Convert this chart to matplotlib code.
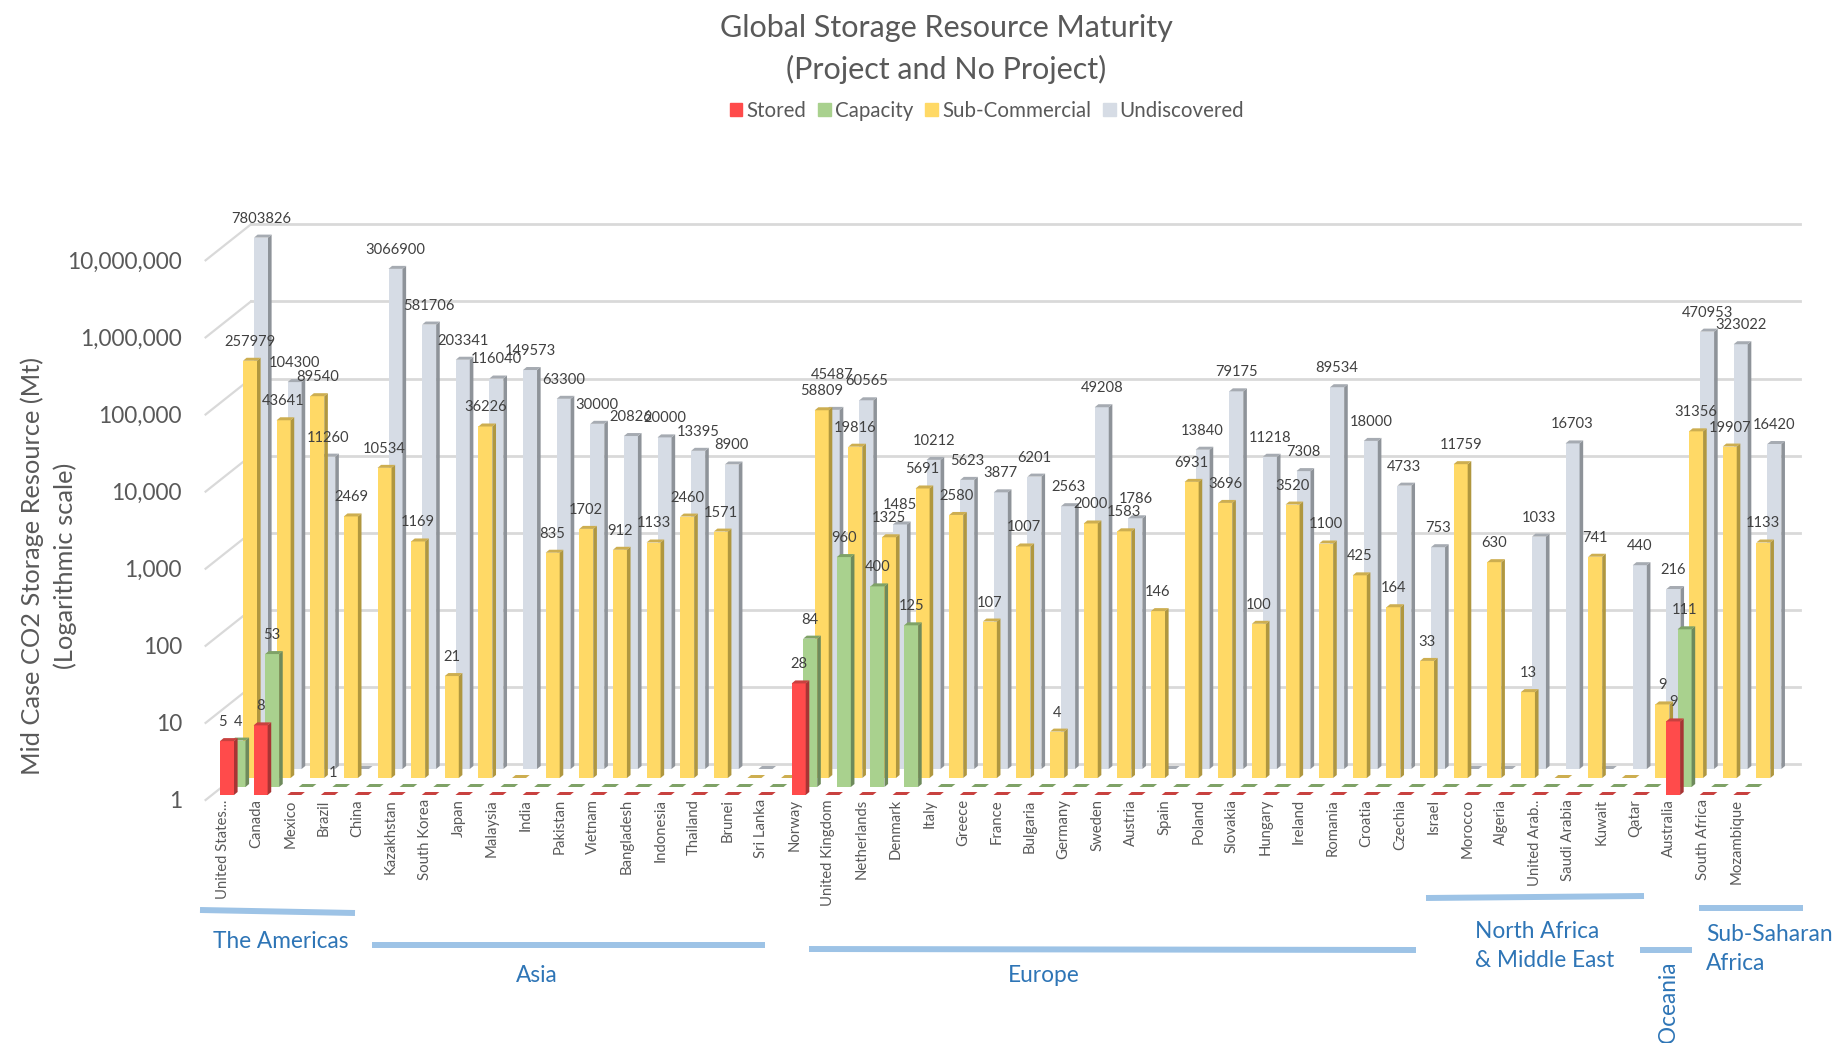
import numpy as np
from matplotlib import pyplot as plt
from matplotlib.patches import Patch
from matplotlib.ticker import FuncFormatter

countries = [
    "United States...", "Canada", "Mexico", "Brazil", "China", "Kazakhstan", "South Korea", "Japan",
    "Malaysia", "India", "Pakistan", "Vietnam", "Bangladesh", "Indonesia", "Thailand", "Brunei",
    "Sri Lanka", "Norway", "United Kingdom", "Netherlands", "Denmark", "Italy", "Greece", "France",
    "Bulgaria", "Germany", "Sweden", "Austria", "Spain", "Poland", "Slovakia", "Hungary", "Ireland",
    "Romania", "Croatia", "Czechia", "Israel", "Morocco", "Algeria", "United Arab..", "Saudi Arabia",
    "Kuwait", "Qatar", "Australia", "South Africa", "Mozambique",
]
# 0 = nothing there, only the flat dash on the floor
stored = [
    5, 8, 0, 0, 0, 0, 0, 0, 0, 0, 0, 0, 0, 0, 0, 0, 0, 28, 0, 0, 0, 0, 0, 0,
    0, 0, 0, 0, 0, 0, 0, 0, 0, 0, 0, 0, 0, 0, 0, 0, 0, 0, 0, 9, 0, 0,
]
capacity = [
    4, 53, 0, 0, 0, 0, 0, 0, 0, 0, 0, 0, 0, 0, 0, 0, 0, 84, 960, 400, 125, 0, 0, 0,
    0, 0, 0, 0, 0, 0, 0, 0, 0, 0, 0, 0, 0, 0, 0, 0, 0, 0, 0, 111, 0, 0,
]
sub_commercial = [
    257979, 43641, 89540, 2469, 10534, 1169, 21, 36226, 0, 835, 1702, 912, 1133, 2460, 1571, 0,
    0, 58809, 19816, 1325, 5691, 2580, 107, 1007, 4, 2000, 1583, 146, 6931, 3696, 100, 3520, 1100,
    425, 164, 33, 11759, 630, 13, 0, 741, 0, 9, 31356, 19907, 1133,
]
undiscovered = [
    7803826, 104300, 11260, 1, 3066900, 581706, 203341, 116040, 149573, 63300, 30000, 20826, 20000,
    13395, 8900, 0, 0, 45487, 60565, 1485, 10212, 5623, 3877, 6201, 2563, 49208, 1786, 0, 13840,
    79175, 11218, 7308, 89534, 18000, 4733, 753, 0, 0, 1033, 16703, 0, 440, 216, 470953, 323022,
    16420,
]

FIG_W, FIG_H = 1839, 1043
STEP = 33.63  # px per country
DECADE = 77.1  # px per power of ten
BAR_W = 14 / STEP
SIDE = 3.6 / STEP
TOP_F = 10 ** (3 / DECADE)
TEXT = "#595959"

plt.rcParams["font.family"] = ["Lato", "DejaVu Sans"]

fig = plt.figure(figsize=(FIG_W / 100, FIG_H / 100), dpi=100)


def depth_axes(x_first, y_floor, zorder):
    # one axes per depth row, all with the same scales, slid in pixels
    ax = fig.add_axes(
        [(x_first - STEP) / FIG_W, 1 - y_floor / FIG_H, 47 * STEP / FIG_W, 7 * DECADE / FIG_H],
        zorder=zorder,
    )
    ax.set_yscale("log")
    ax.set_xlim(-1, 46)
    ax.set_ylim(1, 1e7)
    ax.patch.set_alpha(0)
    for s in ax.spines.values():
        s.set_visible(False)
    ax.set_xticks([])
    ax.set_yticks([])
    ax.minorticks_off()
    return ax


def draw_row(ax, values, front, side, top):
    x = np.arange(len(values))
    heights = np.maximum(values, 1)
    ax.bar(x, heights - 1, BAR_W, bottom=1, color=front, linewidth=0)
    for i, h in zip(x, heights):
        left, right = i - BAR_W / 2, i + BAR_W / 2
        if h > 1:
            ax.fill(
                [right, right + SIDE, right + SIDE, right],
                [1, TOP_F, h * TOP_F, h],
                color=side, linewidth=0, clip_on=False,
            )
        ax.fill(
            [left, left + SIDE, right + SIDE, right],
            [h, h * TOP_F, h * TOP_F, h],
            color=top, linewidth=0, clip_on=False,
        )


# back wall with the gridlines and the slanted part on the left
wall = depth_axes(261, 764, 1)
wall.set_xlim(-0.3, 46)
wall.set_position([251 / FIG_W, 1 - 764 / FIG_H, 1549 / FIG_W, 7 * DECADE / FIG_H])
wall_x = 45.4 * 46.3 / 1549
for p in range(8):
    wall.axhline(10**p, color="#D9D9D9", lw=2, clip_on=False)
    wall.plot(
        [-0.3 - wall_x, -0.3], [10**p * 10 ** (-36 / DECADE), 10**p],
        color="#D9D9D9", lw=1.6, clip_on=False,
    )

grey_ax = depth_axes(261, 769, 2)
yellow_ax = depth_axes(250, 778, 3)
green_ax = depth_axes(238.5, 787, 4)
red_ax = depth_axes(227, 795, 5)

draw_row(grey_ax, undiscovered, "#D6DCE5", "#8E9399", "#A6ABB2")
draw_row(yellow_ax, sub_commercial, "#FFD966", "#B0973F", "#CDAE50")
draw_row(green_ax, capacity, "#A9D18E", "#6E8A5C", "#7FA267")
draw_row(red_ax, stored, "#FF4B4B", "#A83434", "#C8413F")

red_ax.set_xticks(np.arange(len(countries)) - 0.12)
red_ax.set_xticklabels(countries, rotation=90, fontsize=10.7, color=TEXT)
red_ax.tick_params(axis="x", length=0, pad=3)

# value axis sits on the front edge of the floor
front = depth_axes(205.6 + STEP, 800, 1)
front.set_yticks([10**p for p in range(8)])
front.yaxis.set_major_formatter(FuncFormatter(lambda v, _: f"{int(v):,}"))
front.tick_params(axis="y", length=0, pad=17, labelsize=16.3, labelcolor=TEXT)
front.yaxis.set_ticks_position("left")

# overlay in pixels for labels and region marks
over = fig.add_axes([0, 0, 1, 1], zorder=10)
over.set_xlim(0, FIG_W)
over.set_ylim(FIG_H, 0)
over.axis("off")

for ax, values in [
    (grey_ax, undiscovered),
    (yellow_ax, sub_commercial),
    (green_ax, capacity),
    (red_ax, stored),
]:
    for i, v in enumerate(values):
        if v < 1:
            continue
        offset = (0, 13.7)
        if v == 1:
            offset = (-21, -3)
        elif v == 45487:
            offset = (0, 25)  # pushed up in the original to clear its neighbour
        elif v == 5:
            offset = (-3, 13.7)
        over.annotate(
            str(v), (i, v), xycoords=ax.transData, xytext=offset, textcoords="offset points",
            ha="center", va="center", fontsize=10.6, color="#404040", annotation_clip=False,
        )

fig.suptitle(
    "Global Storage Resource Maturity\n(Project and No Project)",
    x=946 / FIG_W, y=1 - 49 / FIG_H, va="center", fontsize=22, color=TEXT, linespacing=1.5,
)
over.text(
    48.5, 566, "Mid Case CO2 Storage Resource (Mt)\n(Logarithmic scale)", rotation=90,
    ha="center", va="center", fontsize=18.3, color=TEXT, linespacing=1.45,
)

series_names = ["Stored", "Capacity", "Sub-Commercial", "Undiscovered"]
series_colors = ["#FF4B4B", "#A9D18E", "#FFD966", "#D6DCE5"]
handles = [Patch(color=c, label=n) for c, n in zip(series_colors, series_names)]
over.legend(
    handles=handles, ncol=4, loc="center", bbox_to_anchor=(987 / FIG_W, 1 - 111 / FIG_H),
    bbox_transform=fig.transFigure, frameon=False, fontsize=14.8, labelcolor=TEXT, handlelength=0.6,
    handleheight=0.6, handletextpad=0.2, columnspacing=0.6, borderpad=0,
)

BLUE = "#2E75B6"
LINE = "#9DC3E6"
region_lines = [
    ((200, 355), (910, 913)),
    ((372, 765), (945, 945)),
    ((809, 1416), (949, 950)),
    ((1426, 1644), (898, 896)),
    ((1640, 1692), (950, 950)),
    ((1699, 1803), (908, 908)),
]
for xs, ys in region_lines:
    over.plot(xs, ys, color=LINE, lw=4.3, solid_capstyle="butt")

over.text(281, 942, "The Americas", ha="center", va="center", fontsize=16.3, color=BLUE)
over.text(537, 975, "Asia", ha="center", va="center", fontsize=16.3, color=BLUE)
over.text(1044, 975, "Europe", ha="center", va="center", fontsize=16.3, color=BLUE)
over.text(1475, 946, "North Africa\n& Middle East", ha="left", va="center", fontsize=16.3, color=BLUE, linespacing=1.45)
over.text(1706, 949, "Sub-Saharan\nAfrica", ha="left", va="center", fontsize=16.4, color=BLUE, linespacing=1.45)
over.text(1669, 1002, "Oceania", rotation=90, ha="center", va="center", fontsize=16.3, color=BLUE)

plt.savefig("out.png", dpi=100)
